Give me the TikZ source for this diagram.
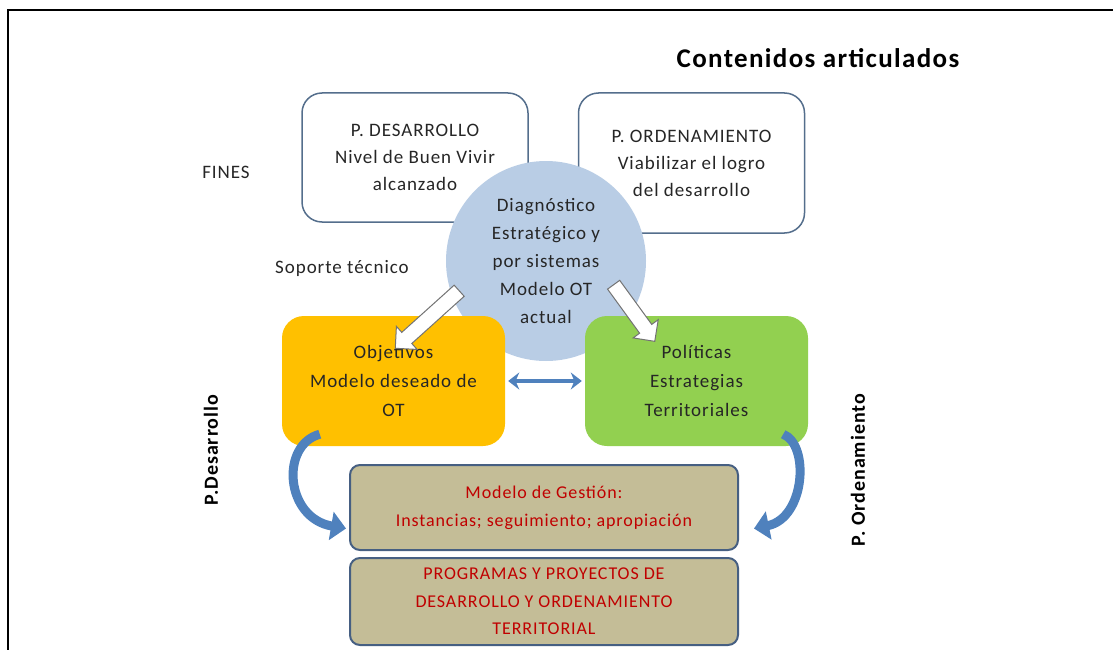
\documentclass[tikz,border=0pt]{standalone}
\usepackage{fontspec}
\setmainfont[LetterSpace=5]{Carlito}
\usepackage{tikz}
\usetikzlibrary{shapes.arrows,arrows.meta,calc}

\definecolor{boxline}{RGB}{84,110,140}
\definecolor{diagblue}{RGB}{185,205,229}
\definecolor{objorange}{RGB}{255,192,0}
\definecolor{polgreen}{RGB}{146,208,80}
\definecolor{gesttan}{RGB}{196,189,151}
\definecolor{gestline}{RGB}{70,95,130}
\definecolor{gestred}{RGB}{192,0,0}
\definecolor{arrblue}{RGB}{79,129,189}
\definecolor{txtgrey}{RGB}{38,38,38}

\begin{document}
\begin{tikzpicture}[x=1pt,y=-1pt,
  txt/.style={font=\fontsize{19}{27}\selectfont,text=txtgrey,align=center},
  fin/.style={txt,draw=boxline,line width=1.5pt,rounded corners=20pt,fill=white,
              minimum width=226pt},
  meta/.style={txt,rounded corners=22pt,minimum width=223pt,minimum height=130pt,
               font=\fontsize{19}{29}\selectfont},
  gest/.style={txt,draw=gestline,line width=2pt,rounded corners=10pt,fill=gesttan,
               minimum width=388pt,text=gestred,font=\fontsize{18}{28}\selectfont},
  side/.style={font=\bfseries\fontsize{20}{24}\selectfont,rotate=90},
  blk/.style={single arrow,draw=black!55,fill=white,line width=1pt,inner xsep=0pt,
              inner ysep=7pt,single arrow head extend=8pt},
  curv/.style={arrblue,line width=9pt,-{Triangle[length=15pt,width=28pt]}},
  dbl/.style={arrblue,line width=3.5pt,{Stealth[length=11pt,width=17pt]}-{Stealth[length=11pt,width=17pt]},
              shorten <=3pt,shorten >=3pt}]
\useasboundingbox (0,0) rectangle (1113,650);
%%%%%%%%%%%%%%%%%%%%%%%%%%%%%%%%
%% frame and title
%%%%%%%%%%%%%%%%%%%%%%%%%%%%%%%%
\draw[line width=2.5pt] (8,650) -- (8,10) -- (1113,10);
\node[font=\bfseries\fontsize{27}{30}\selectfont] (title) at (818,58) {Contenidos articulados};
\node[txt] (fines) at (226,172) {FINES};
\node[txt] (soporte) at (342,268) {Soporte técnico};
%%%%%%%%%%%%%%%%%%%%%%%%%%%%%%%%
%% fines
%%%%%%%%%%%%%%%%%%%%%%%%%%%%%%%%
\node[fin,minimum height=129pt] (pdes) at (415,157.5)
  {P. DESARROLLO\\Nivel de Buen Vivir\\alcanzado};
\node[fin,minimum height=140pt] (pord) at (691.5,163)
  {P. ORDENAMIENTO\\Viabilizar el logro\\del desarrollo};
%
\node[txt,circle,fill=diagblue,minimum size=200pt,inner sep=0pt,
      font=\fontsize{19}{28}\selectfont] (diag) at (546,261)
  {Diagnóstico\\Estratégico y\\por sistemas\\Modelo OT\\actual};
%%%%%%%%%%%%%%%%%%%%%%%%%%%%%%%%
%% objetivos / politicas
%%%%%%%%%%%%%%%%%%%%%%%%%%%%%%%%
\node[meta,fill=objorange] (obj) at (393.5,381) {Objetivos\\Modelo deseado de\\OT};
\node[meta,fill=polgreen] (pol) at (696.5,381) {Políticas\\Estrategias\\Territoriales};
%
\node[blk,minimum height=86pt,rotate=222] (blkl) at (430,317) {};
\node[blk,minimum height=70pt,rotate=306] (blkr) at (632,310) {};
\draw[dbl] (obj.east) -- (pol.west);
%%%%%%%%%%%%%%%%%%%%%%%%%%%%%%%%
%% gestion / programas
%%%%%%%%%%%%%%%%%%%%%%%%%%%%%%%%
\node[gest,minimum height=85pt] (modg) at (544,507.5)
  {Modelo de Gestión:\\Instancias; seguimiento; apropiación};
\node[gest,minimum height=87pt,font=\fontsize{18}{27.5}\selectfont] (prog) at (544,601.5)
  {PROGRAMAS Y PROYECTOS DE\\DESARROLLO Y ORDENAMIENTO\\TERRITORIAL};
%
\draw[curv] ($(obj.south west)+(38,-12)$) .. controls (280,445) and (285,518) .. ($(modg.west)+(-3,21)$);
\draw[curv] ($(pol.south east)+(-25,-12)$) .. controls (810,445) and (805,518) .. ($(modg.east)+(15,21)$);
%
\node[side] (pdesl) at (211,450) {P.Desarrollo};
\node[side] (pordl) at (858,470) {P. Ordenamiento};
\end{tikzpicture}
\end{document}
